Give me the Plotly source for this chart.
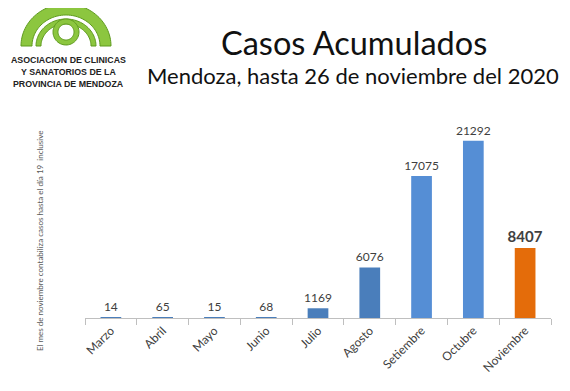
import numpy as np
import plotly.graph_objects as go

months = ["Marzo", "Abril", "Mayo", "Junio", "Julio", "Agosto", "Setiembre", "Octubre", "Noviembre"]
cases = [14, 65, 15, 68, 1169, 6076, 17075, 21292, 8407]
bar_colors = ["#4A7EBB", "#4A7EBB", "#4A7EBB", "#4A7EBB", "#4A7EBB", "#4A7EBB", "#558ED5", "#558ED5", "#E46C0A"]
label_text = ["14", "65", "15", "68", "1169", "6076", "17075", "21292", "<b>8407</b>"]
label_sizes = [12, 12, 12, 12, 12, 12, 12, 12, 15]

W, H = 570, 391
OFF = 8  # page body margin offset
L, R = 85 - OFF, 570 - (551 - OFF)
T, B = 110 - OFF, 391 - (318 - OFF)
PW, PH = W - L - R, H - T - B


def px(x, y):
    # reference pixel -> paper coords
    return (x - OFF - L) / PW, (H - B - (y - OFF)) / PH


fig = go.Figure()
fig.add_trace(go.Bar(
    x=months, y=cases, width=0.4,
    marker=dict(color=bar_colors, line=dict(width=0)),
    text=label_text, textposition="outside", constraintext="none",
    textfont=dict(size=label_sizes, color="#404040", family="Lato"),
    cliponaxis=False,
))

shapes = []


def arch_path(cx, cy, rxo, ryo, rxi, ryi, n=60):
    t = np.linspace(np.pi, 0, n)
    pts = [(cx + rxo * np.cos(a), cy - ryo * np.sin(a)) for a in t]
    t2 = np.linspace(0, np.pi, n)
    pts += [(cx + rxi * np.cos(a), cy - ryi * np.sin(a)) for a in t2]
    s = ""
    for i, (x, y) in enumerate(pts):
        X, Y = px(x, y)
        s += ("M" if i == 0 else "L") + f"{X:.5f},{Y:.5f} "
    return s + "Z"


def ring_path(cx, cy, ro, ri, n=60):
    t = np.linspace(0, 2 * np.pi, n)
    s = ""
    for i, a in enumerate(t):
        X, Y = px(cx + ro * np.cos(a), cy - ro * np.sin(a))
        s += ("M" if i == 0 else "L") + f"{X:.5f},{Y:.5f} "
    s += "Z "
    for i, a in enumerate(t[::-1]):
        X, Y = px(cx + ri * np.cos(a), cy - ri * np.sin(a))
        s += ("M" if i == 0 else "L") + f"{X:.5f},{Y:.5f} "
    return s + "Z"


green = "#8CC63F"
dark = "#5E9A1E"
# logo arches
shapes.append(dict(type="path", xref="paper", yref="paper", path=arch_path(66, 46, 45, 42, 34, 31),
                   fillcolor=green, line=dict(color=dark, width=1)))
shapes.append(dict(type="path", xref="paper", yref="paper", path=arch_path(66, 46, 30, 27, 25, 22),
                   fillcolor=green, line=dict(color=dark, width=1)))
shapes.append(dict(type="path", xref="paper", yref="paper", path=ring_path(66, 32, 13, 8),
                   fillcolor=green, line=dict(color=dark, width=1)))

annotations = []
logo_lines = ["ASOCIACION DE CLINICAS", "Y SANATORIOS DE LA", "PROVINCIA DE MENDOZA"]
for i, line in enumerate(logo_lines):
    X, Y = px(68, 60 + 12 * i)
    annotations.append(dict(x=X, y=Y, xref="paper", yref="paper", text=f"<b>{line}</b>", showarrow=False,
                            font=dict(family="Liberation Sans", size=8.8, color="#222222"),
                            xanchor="center", yanchor="middle"))

X, Y = px(354, 42)
annotations.append(dict(x=X, y=Y, xref="paper", yref="paper", text="Casos Acumulados", showarrow=False,
                        font=dict(family="Lato", size=32.5, color="#111111"), xanchor="center", yanchor="middle"))
X, Y = px(353, 76)
annotations.append(dict(x=X, y=Y, xref="paper", yref="paper", text="Mendoza, hasta 26 de noviembre del 2020",
                        showarrow=False, font=dict(family="Lato", size=22, color="#111111"),
                        xanchor="center", yanchor="middle"))
X, Y = px(40, 241)
annotations.append(dict(x=X, y=Y, xref="paper", yref="paper",
                        text="El mes de noviembre contabiliza casos hasta el día 19  inclusive",
                        showarrow=False, textangle=-90, font=dict(family="Lato", size=8, color="#595959"),
                        xanchor="center", yanchor="middle"))

fig.update_layout(
    width=W, height=H, margin=dict(l=L, r=R, t=T, b=B),
    paper_bgcolor="white", plot_bgcolor="white",
    showlegend=False, shapes=shapes, annotations=annotations,
    font=dict(family="Lato"),
)
fig.update_xaxes(showline=True, linecolor="#BFBFBF", linewidth=1, ticks="outside", tickson="boundaries",
                 ticklen=6, tickcolor="#BFBFBF", tickangle=-45, tickfont=dict(size=12, color="#404040"),
                 showgrid=False, automargin=False)
fig.update_yaxes(range=[0, 25000], visible=False, showgrid=False, automargin=False)

fig.write_html("out.html")
